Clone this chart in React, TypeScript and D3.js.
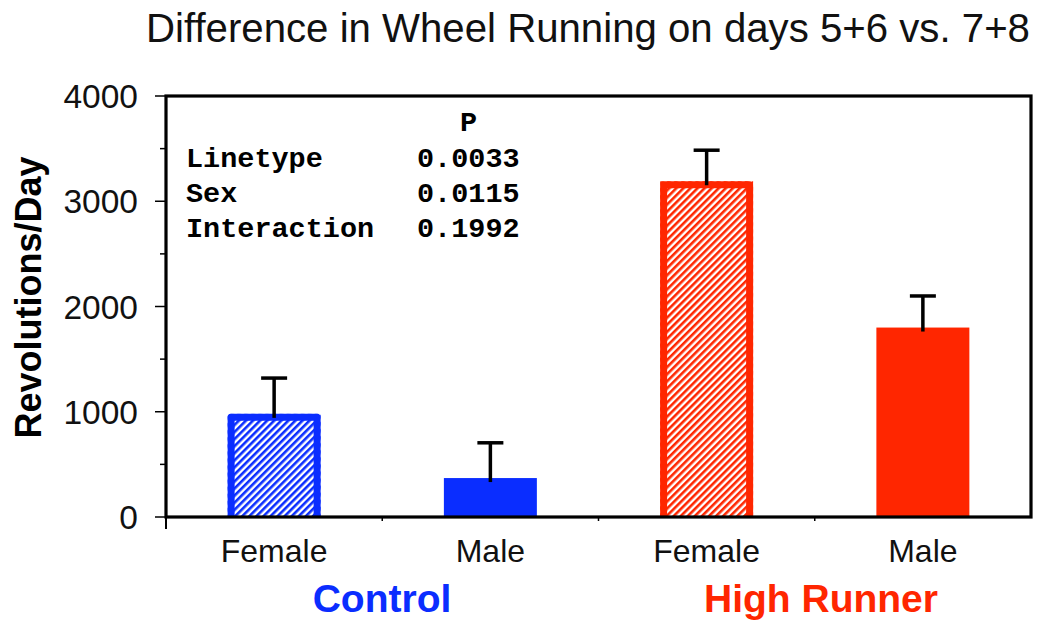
import React from "react";
import * as d3 from "d3";

const title = "Difference in Wheel Running on days 5+6 vs. 7+8";
const yLabel = "Revolutions/Day";
const categories = ["cf", "cm", "hf", "hm"];
const categoryLabels = ["Female", "Male", "Female", "Male"];
const categoryGroup = [0, 0, 1, 1];
const hatched = [true, false, true, false];
const means = [980, 370, 3190, 1800];
const sems = [340, 335, 295, 300];
const groupNames = ["Control", "High Runner"];
const groupColors = ["#0A2DFF", "#FF2600"];
const majorTicks = [0, 1000, 2000, 3000, 4000];
const minorTicks = [500, 1500, 2500, 3500];
const statLabels = ["Linetype", "Sex", "Interaction"];
const statValues = ["0.0033", "0.0115", "0.1992"];

const W = 1039;
const H = 624;
const left = 166;
const right = 1031;
const top = 96;
const bottom = 517;

export default function App() {
  const x = d3
    .scaleBand<string>()
    .domain(categories)
    .range([left, right])
    .paddingInner(0.57)
    .paddingOuter(0.285);
  const y = d3.scaleLinear().domain([0, 4000]).range([bottom, top]);
  const step = (right - left) / categories.length;
  const bw = x.bandwidth();
  const sans = "'Liberation Sans', Arial, sans-serif";
  const mono = "'Liberation Mono', 'Courier New', monospace";
  const border = 7;
  const hp = 5;

  return (
    <svg
      width={W}
      height={H}
      style={{ position: "absolute", left: 0, top: 0, background: "#fff" }}
    >
      <defs>
        {groupColors.map((c, i) => (
          <pattern
            key={i}
            id={`hatch${i}`}
            patternUnits="userSpaceOnUse"
            width={hp}
            height={hp}
            patternTransform="rotate(45)"
          >
            <rect x={0} y={0} width={hp} height={hp} fill="#fff" />
            <rect x={0} y={0} width={hp * 0.52} height={hp} fill={c} />
          </pattern>
        ))}
      </defs>

      <text
        x={588}
        y={42}
        textAnchor="middle"
        fontFamily={sans}
        fontSize={40.2}
        fill="#111"
      >
        {title}
      </text>

      {/* bars */}
      {categories.map((c, i) => {
        const color = groupColors[categoryGroup[i]];
        const x0 = x(c)!;
        const yt = y(means[i]);
        const y0 = y(0);
        if (hatched[i]) {
          const h = border / 2;
          const outline = `M${x0 + h},${y0} L${x0 + h},${yt + h} L${x0 + bw - h},${yt + h} L${x0 + bw - h},${y0}`;
          return (
            <g key={c}>
              <rect
                x={x0}
                y={yt}
                width={bw}
                height={y0 - yt}
                fill={`url(#hatch${categoryGroup[i]})`}
              />
              <path
                d={outline}
                fill="none"
                stroke={color}
                strokeWidth={border}
                strokeLinejoin="round"
              />
            </g>
          );
        }
        return (
          <rect
            key={c}
            x={x0}
            y={yt}
            width={bw}
            height={y0 - yt}
            fill={color}
          />
        );
      })}

      {/* error bars */}
      {categories.map((c, i) => {
        const cx = x(c)! + bw / 2;
        const y1 = y(means[i]);
        const y2 = y(means[i] + sems[i]);
        return (
          <g key={c} stroke="#000" strokeWidth={3.5}>
            <line x1={cx} x2={cx} y1={y1 + 4} y2={y2} />
            <line x1={cx - 13} x2={cx + 13} y1={y2} y2={y2} />
          </g>
        );
      })}

      {/* frame */}
      <rect
        x={left}
        y={top}
        width={right - left}
        height={bottom - top}
        fill="none"
        stroke="#000"
        strokeWidth={3.2}
      />
      <line x1={left} x2={left} y1={bottom} y2={529} stroke="#000" strokeWidth={2} />
      {d3.range(1, categories.length).map((k) => (
        <line
          key={k}
          x1={left + k * step}
          x2={left + k * step}
          y1={bottom}
          y2={bottom + 4}
          stroke="#000"
          strokeWidth={1.5}
        />
      ))}

      {/* y ticks */}
      {majorTicks.map((t) => (
        <g key={t}>
          <line x1={155} x2={left} y1={y(t)} y2={y(t)} stroke="#000" strokeWidth={1.5} />
          <text
            x={138}
            y={y(t)}
            dy="0.36em"
            textAnchor="end"
            fontFamily={sans}
            fontSize={33.5}
            fill="#111"
          >
            {t}
          </text>
        </g>
      ))}
      {minorTicks.map((t) => (
        <line key={t} x1={160} x2={left} y1={y(t)} y2={y(t)} stroke="#000" strokeWidth={1.5} />
      ))}

      <text
        transform={`translate(41,${(155 + 440) / 2}) rotate(-90)`}
        textAnchor="middle"
        fontFamily={sans}
        fontWeight="bold"
        fontSize={36}
        fill="#000"
      >
        {yLabel}
      </text>

      {/* category labels */}
      {categories.map((c, i) => (
        <text
          key={c}
          x={x(c)! + bw / 2}
          y={562}
          textAnchor="middle"
          fontFamily={sans}
          fontSize={32}
          fill="#111"
        >
          {categoryLabels[i]}
        </text>
      ))}
      {groupNames.map((g, gi) => (
        <text
          key={g}
          x={gi === 0 ? 382 : 821}
          y={612}
          textAnchor="middle"
          fontFamily={sans}
          fontWeight="bold"
          fontSize={39}
          fill={groupColors[gi]}
        >
          {g}
        </text>
      ))}

      {/* stats table */}
      <g fontFamily={mono} fontWeight="bold" fontSize={28.5} fill="#000">
        <text x={460} y={131}>P</text>
        {statLabels.map((s, i) => (
          <g key={s}>
            <text x={186} y={167 + i * 35}>{s}</text>
            <text x={417} y={167 + i * 35}>{statValues[i]}</text>
          </g>
        ))}
      </g>
    </svg>
  );
}
